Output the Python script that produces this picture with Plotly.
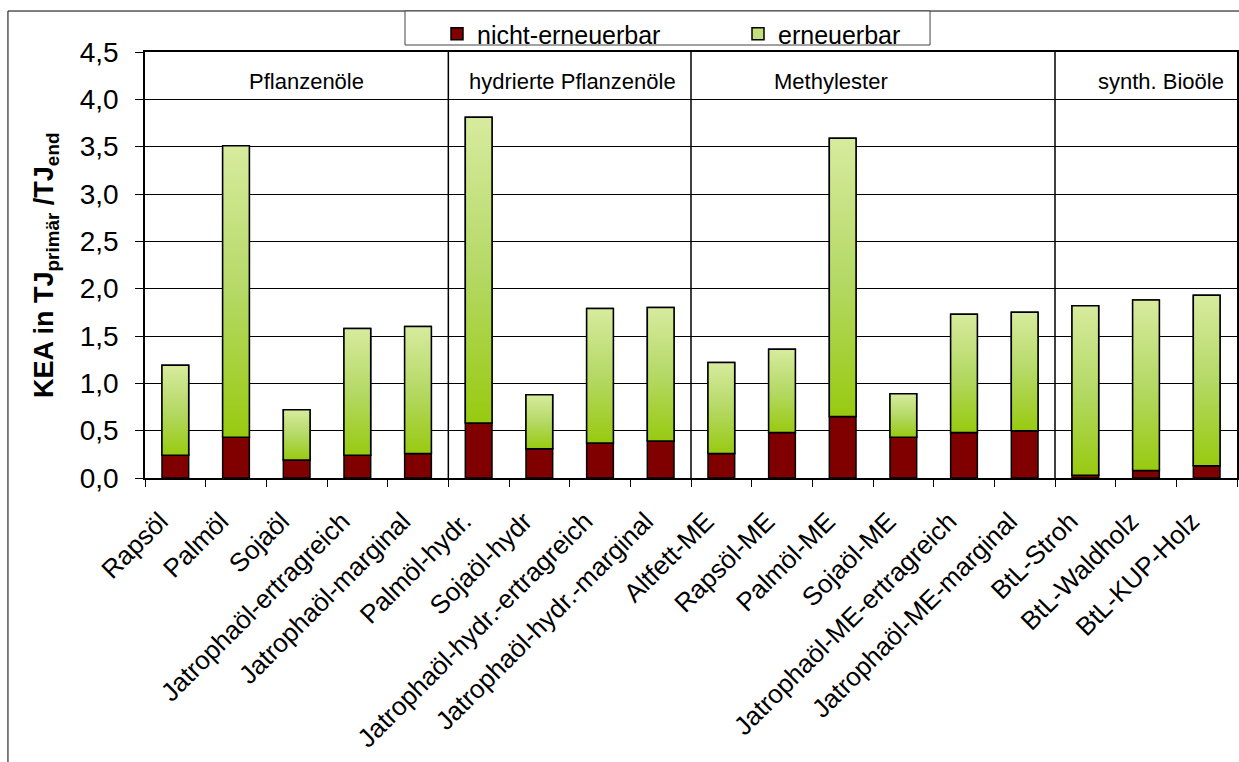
import plotly.graph_objects as go

# Kumulierter Energieaufwand (KEA) je Kraftstoffpfad
categories = [
    "Rapsöl", "Palmöl", "Sojaöl", "Jatrophaöl-ertragreich", "Jatrophaöl-marginal",
    "Palmöl-hydr.", "Sojaöl-hydr", "Jatrophaöl-hydr.-ertragreich", "Jatrophaöl-hydr.-marginal",
    "Altfett-ME", "Rapsöl-ME", "Palmöl-ME", "Sojaöl-ME", "Jatrophaöl-ME-ertragreich",
    "Jatrophaöl-ME-marginal", "BtL-Stroh", "BtL-Waldholz", "BtL-KUP-Holz",
]
nicht_erneuerbar = [0.24, 0.43, 0.19, 0.24, 0.26,
                    0.58, 0.31, 0.37, 0.39,
                    0.26, 0.48, 0.65, 0.43, 0.48, 0.50,
                    0.03, 0.08, 0.13]
gesamt = [1.19, 3.51, 0.72, 1.58, 1.60,
          3.81, 0.88, 1.79, 1.80,
          1.22, 1.36, 3.59, 0.89, 1.73, 1.75,
          1.82, 1.88, 1.93]
erneuerbar = [round(t - n, 2) for t, n in zip(gesamt, nicht_erneuerbar)]

group_names = ["Pflanzenöle", "hydrierte Pflanzenöle", "Methylester", "synth. Bioöle"]
group_sizes = [5, 4, 6, 3]

FONT = "Liberation Sans, Arial, sans-serif"
RED = "#800000"
BAR_W = 0.44
idx = list(range(len(categories)))

fig = go.Figure()

fig.add_trace(go.Bar(
    x=idx, y=nicht_erneuerbar, width=BAR_W, name="nicht-erneuerbar",
    marker=dict(color=RED, line=dict(color="black", width=1.5)),
))
fig.add_trace(go.Bar(
    x=idx, y=erneuerbar, base=nicht_erneuerbar, width=BAR_W, name="erneuerbar",
    marker=dict(color="#c4e07c", line=dict(color="black", width=1.5)),
))

# gradient fill for the renewable segment of every bar
for i, (lo, hi) in enumerate(zip(nicht_erneuerbar, gesamt)):
    x0, x1 = i - BAR_W / 2, i + BAR_W / 2
    fig.add_trace(go.Scatter(
        x=[x0, x1, x1, x0, x0], y=[lo, lo, hi, hi, lo],
        mode="lines", fill="toself",
        fillgradient=dict(type="vertical",
                          colorscale=[[0, "#98ca10"], [0.5, "#b5d966"], [1, "#d7eb9e"]]),
        line=dict(color="black", width=1.5),
        showlegend=False, hoverinfo="skip",
    ))

# group separators and group captions
shapes = []
annotations = []
label_x = [2.17, 6.54, 10.81, 16.25]
start = 0
for k, (name, size) in enumerate(zip(group_names, group_sizes)):
    end = start + size
    if end < len(categories):
        shapes.append(dict(type="line", xref="x", yref="paper", x0=end - 0.5, x1=end - 0.5,
                           y0=0, y1=1, line=dict(color="black", width=1.5)))
    annotations.append(dict(text=name, xref="x", yref="paper", x=label_x[k], y=0.93,
                            showarrow=False, xanchor="center", yanchor="middle",
                            font=dict(family=FONT, size=22, color="black")))
    start = end

# outer frame and legend frame
shapes.append(dict(type="rect", xref="paper", yref="paper", x0=-0.1255, x1=1.02,
                   y0=-1.0, y1=1.0962, line=dict(color="black", width=1),
                   fillcolor="rgba(0,0,0,0)", layer="below"))
shapes.append(dict(type="rect", xref="paper", yref="paper", x0=0.2381, x1=0.7189,
                   y0=1.0164, y1=1.0962, line=dict(color="#444", width=1),
                   fillcolor="white", layer="below"))

annotations.append(dict(
    text="<b>KEA in TJ<sub>primär</sub> /TJ<sub>end</sub></b>",
    xref="paper", yref="paper", x=-0.0907, y=0.5, textangle=-90,
    showarrow=False, xanchor="center", yanchor="middle",
    font=dict(family=FONT, size=27, color="black"),
))

fig.update_layout(
    width=1239, height=762,
    margin=dict(l=145, r=2, t=52, b=284, autoexpand=False),
    paper_bgcolor="white", plot_bgcolor="white",
    barmode="overlay",
    separators=",.",
    font=dict(family=FONT, color="black"),
    shapes=shapes, annotations=annotations,
    legend=dict(orientation="h", x=0.2674, y=1.0962, xanchor="left", yanchor="top",
                bgcolor="rgba(0,0,0,0)", borderwidth=0,
                font=dict(family=FONT, size=25, color="black"),
                entrywidth=256, entrywidthmode="pixels",
                traceorder="normal"),
    xaxis=dict(
        range=[-0.5, len(categories) - 0.5], automargin=False,
        tickmode="array", tickvals=idx, ticktext=categories, tickangle=-45,
        ticks="outside", ticklen=0, tickcolor="black",
        ticklabelstandoff=16, ticklabelshift=-15,
        showgrid=False, zeroline=False,
        showline=True, linecolor="black", linewidth=1.5, mirror=True,
        tickfont=dict(family=FONT, size=26, color="black"),
        minor=dict(tickmode="linear", tick0=-0.5, dtick=1,
                   ticks="outside", ticklen=7, tickcolor="black", tickwidth=1, showgrid=False),
    ),
    yaxis=dict(
        range=[0, 4.5], dtick=0.5, tick0=0, tickformat=".1f", automargin=False,
        showgrid=True, gridcolor="black", gridwidth=1, zeroline=False,
        showline=True, linecolor="black", linewidth=1.5, mirror=True,
        ticks="outside", ticklen=8, tickcolor="black", ticklabelstandoff=11,
        tickfont=dict(family=FONT, size=28, color="black"),
    ),
)

fig.write_html("out.html")
